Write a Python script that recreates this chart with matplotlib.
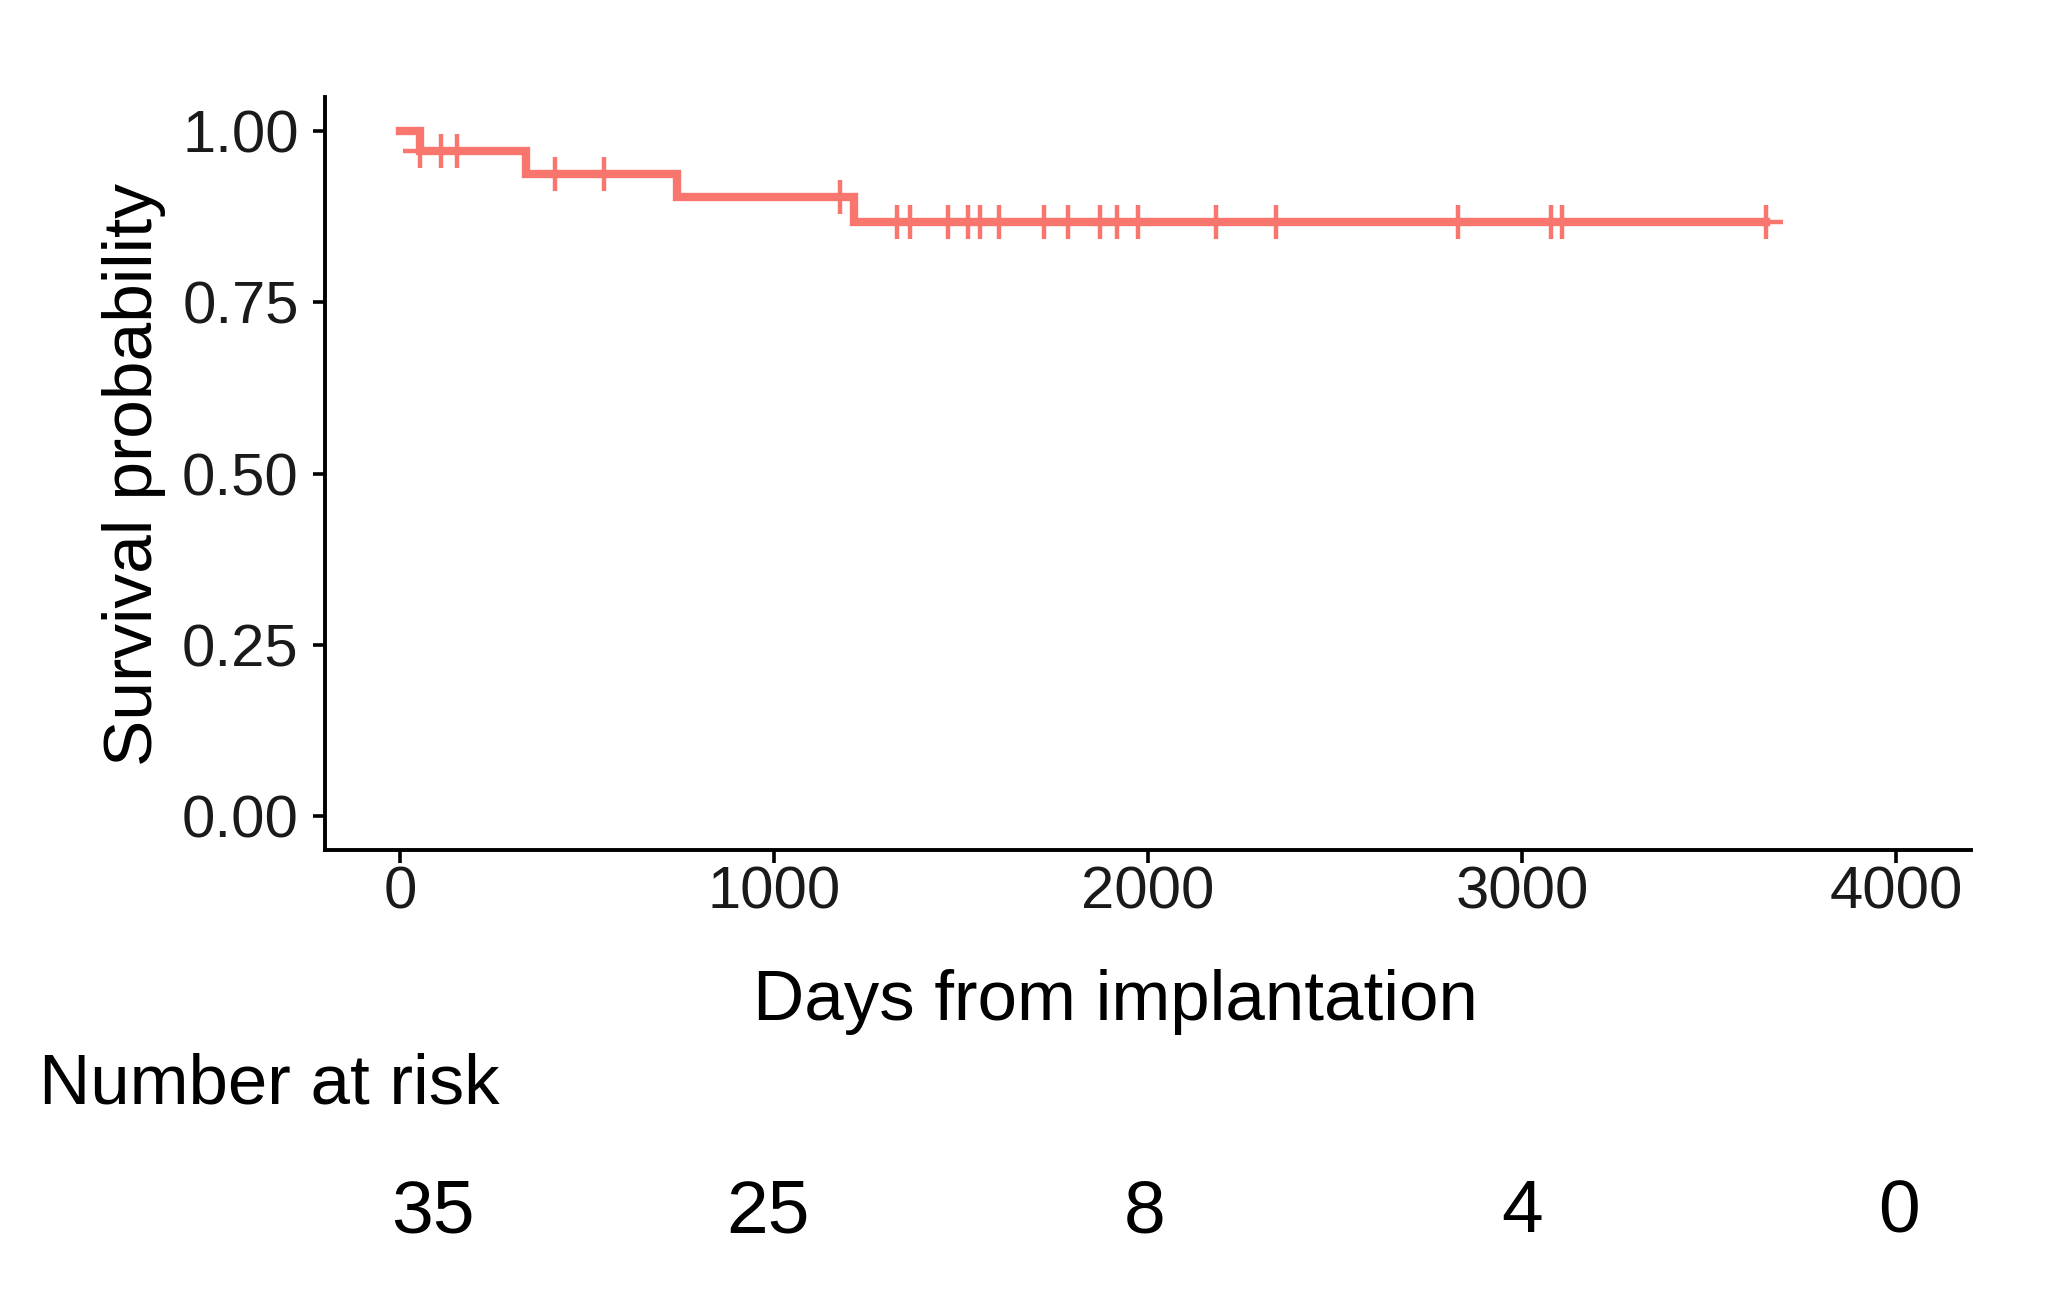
import numpy as np
import matplotlib
matplotlib.use("Agg")
import matplotlib.pyplot as plt

plt.rcParams['font.family'] = ['Liberation Sans', 'DejaVu Sans']

# Kaplan-Meier step curve
step_times = [0, 53, 338, 742, 1215, 3652]
step_surv = [1.000, 0.971, 0.938, 0.904, 0.867, 0.867]

# censored observations (days)
censor_times = [53, 111, 153, 416, 545, 1177, 1329, 1363, 1465, 1519, 1550,
                1603, 1722, 1786, 1871, 1918, 1974, 2181, 2342, 2828, 3077,
                3108, 3652]

# risk table
risk_times = [0, 1000, 2000, 3000, 4000]
risk_counts = [35, 25, 8, 4, 0]

x_ticks = [0, 1000, 2000, 3000, 4000]
y_ticks = [0.00, 0.25, 0.50, 0.75, 1.00]

line_color = '#F8766D'

fig = plt.figure(figsize=(20.48, 13.10), dpi=100)

# Main survival panel
ax = fig.add_axes([0.1587, 0.3511, 0.8037, 0.5748])
ax.step(step_times, step_surv, where='post', color=line_color, lw=6,
        solid_joinstyle='miter')
idx = np.searchsorted(step_times, censor_times, side='right') - 1
censor_surv = np.array(step_surv)[idx]
ax.plot(censor_times, censor_surv, ls='none', marker='+', ms=24, mew=3.2,
        color=line_color)

ax.set_xlim(-200, 4200)
ax.set_ylim(-0.05, 1.05)
ax.set_xticks(x_ticks)
ax.set_xticklabels([str(t) for t in x_ticks])
ax.set_yticks(y_ticks)
ax.set_yticklabels([f'{v:.2f}' for v in y_ticks])
for side in ['top', 'right']:
    ax.spines[side].set_visible(False)
for side in ['left', 'bottom']:
    ax.spines[side].set_linewidth(2.8)
    ax.spines[side].set_color('black')
ax.tick_params(axis='both', length=9, width=2.6, color='black',
               labelsize=43, labelcolor='#1a1a1a')
ax.tick_params(axis='x', pad=2)
ax.tick_params(axis='y', pad=10)

fig.text(134 / 2048, 1 - 475 / 1310, 'Survival probability', rotation=90,
         ha='center', va='center', fontsize=50)
fig.text(753 / 2048, 1 - 1020 / 1310, 'Days from implantation',
         ha='left', va='baseline', fontsize=51)
fig.text(39 / 2048, 1 - 1104 / 1310, 'Number at risk',
         ha='left', va='baseline', fontsize=51)

# Risk table panel
tab = fig.add_axes([0.1541, 0.038, 0.80996, 0.0763])
tab.set_xlim(-200, 4200)
tab.set_ylim(0, 1)
tab.axis('off')
for i, (t, n) in enumerate(zip(risk_times, risk_counts)):
    tab.text(t, 0.28, str(n), ha='left' if i == 0 else 'center',
             va='baseline', fontsize=54)

fig.savefig('out.png', dpi=100, facecolor='white')
